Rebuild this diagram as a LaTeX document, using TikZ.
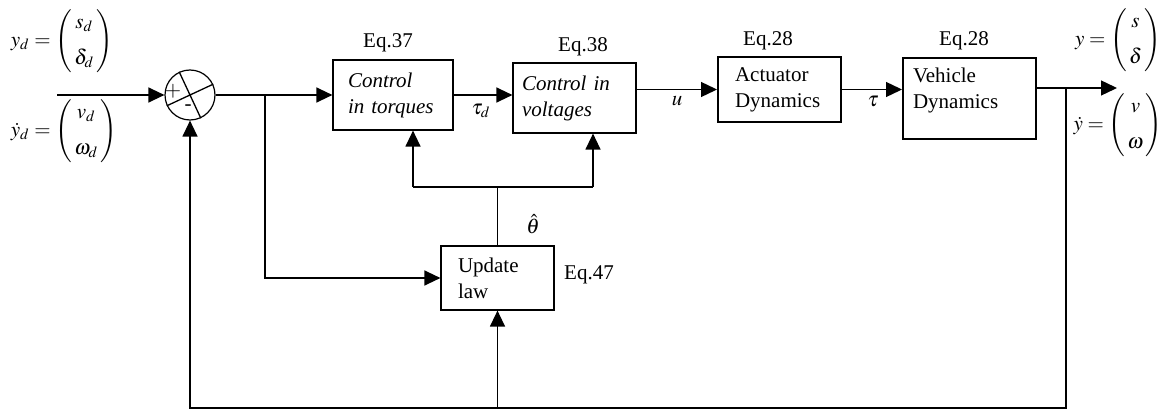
\documentclass[tikz,border=0pt]{standalone}
\usepackage{mathptmx}
\usepackage{fontspec}
\setmainfont{Liberation Serif}
\usetikzlibrary{arrows.meta}
\newcommand{\vecpair}[2]{\left(\begin{array}{@{\,}c@{\,}}#1\\[5pt]#2\end{array}\right)}

\begin{document}
\begin{tikzpicture}[x=0.5pt,y=-0.5pt,
every node/.style={font=\fontsize{10.5}{13}\selectfont},
blk/.style={draw, line width=0.6pt, align=left, inner ysep=3pt},
ital/.style={font=\fontsize{10.5}{13}\selectfont\itshape},
heavy/.style={line width=1pt},
lbl/.style={inner sep=1pt},
wire/.style={line width=0.65pt},
sig/.style={line width=0.65pt, -{Triangle[length=8pt,width=7.5pt]}}]
\useasboundingbox (0,0) rectangle (1160,411);
% summing junction
\node[draw, circle, line width=0.6pt, minimum size=25pt, inner sep=0pt] (sum) at (190,95) {};
\draw[wire] (sum.115) -- (sum.295) (sum.25) -- (sum.205);
\node[inner sep=0pt] (plus) at (173,91) {$+$};
\node[inner sep=0pt] (minus) at (188,108) {-};
% blocks
\node[blk, ital, text width=45pt, inner xsep=7.5pt, minimum height=35pt] (ctq) at (393,95) {Control\\in torques};
\node[blk, ital, text width=52.5pt, inner xsep=4.5pt, minimum height=35pt] (cvo) at (574.5,98) {Control in\\voltages};
\node[blk, heavy, text width=44.5pt, inner xsep=8.5pt, minimum height=32.5pt] (act) at (779.5,89.5) {Actuator\\Dynamics};
\node[blk, heavy, text width=56.5pt, inner xsep=5pt, inner ysep=5pt, text depth=23pt, anchor=north] (veh) at (969.5,57) {Vehicle\\Dynamics};
\node[blk, text width=39.5pt, inner xsep=8.5pt, minimum height=32pt] (upd) at (497.5,278) {Update\\law};
\node (eq37) at (388,43) {Eq.37};
\node (eq38) at (583,47) {Eq.38};
\node (eq28a) at (768,41) {Eq.28};
\node (eq28b) at (964,41) {Eq.28};
\node (eq47) at (589,275) {Eq.47};
% signals
\coordinate (in) at (57,95);
\coordinate (br) at (265,95);
\coordinate (out) at (1117,88);
\coordinate (fb) at (1066,88);
\coordinate (fbb) at (1066,408);
\coordinate (thl) at (413,187);
\coordinate (thr) at (593,187);
\draw[sig] (in) -- (sum.west);
\draw[sig] (sum.east) -- (sum.east -| ctq.west);
\draw[sig] (br) |- (upd.west);
\draw[sig] (ctq.east) -- (ctq.east -| cvo.west);
\draw[sig] (act.west -| cvo.east) -- (act.west);
\draw[sig] (act.east) -- (act.east -| veh.west);
\draw[sig] (veh.east |- out) -- (out);
\draw[sig] (fb) -- (fbb) -| (sum.south);
\draw[sig] (upd.south |- fbb) -- (upd.south);
\draw[wire] (upd.north) -- (upd.north |- thl);
\draw[wire] (thl) -- (thr);
\draw[sig] (thl) -- (thl |- ctq.south);
\draw[sig] (thr) -- (thr |- cvo.south);
\node[lbl] (ltd) at (481,111) {$\tau_d$};
\node[lbl] (lu) at (677,101) {$u$};
\node[lbl] (ltau) at (873,101) {$\tau$};
\node[lbl] (lth) at (533,224) {$\hat{\theta}$};
% outputs and references
\node[lbl] (yd) at (62,41) {$y_d = \vecpair{s_d}{\delta_d}$};
\node[lbl] (ydd) at (64,131) {$\dot{y}_d = \vecpair{v_d}{\omega_d}$};
\node[lbl] (y) at (1118,40) {$y = \vecpair{s}{\delta}$};
\node[lbl] (yy) at (1118,125) {$\dot{y} = \vecpair{v}{\omega}$};
\end{tikzpicture}
\end{document}
